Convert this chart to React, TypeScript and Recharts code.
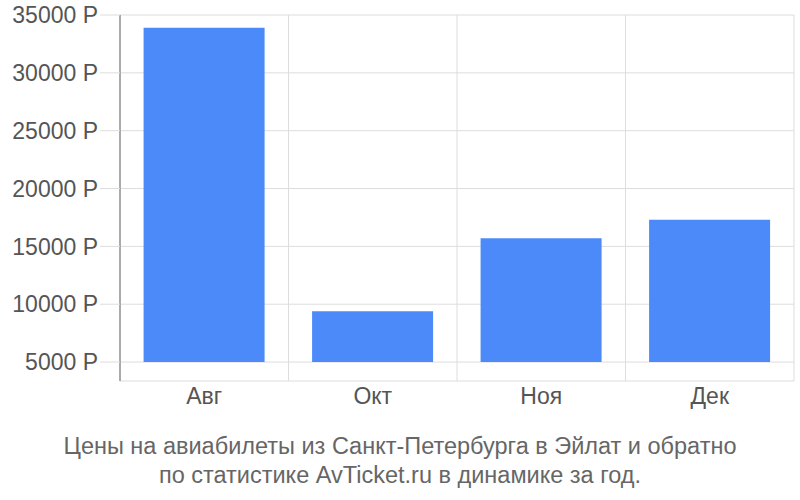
import { BarChart, Bar, XAxis, YAxis, CartesianGrid } from 'recharts'

const MONTHS = ['Авг', 'Окт', 'Ноя', 'Дек']
const PRICES = [33900, 9400, 15700, 17300]
const Y_TICKS = [5000, 10000, 15000, 20000, 25000, 30000, 35000]
const BASE_PRICE = 5000

const TITLE_LINES = [
  'Цены на авиабилеты из Санкт-Петербурга в Эйлат и обратно',
  'по статистике AvTicket.ru в динамике за год.',
]

const data = MONTHS.map((m, i) => ({ month: m, range: [BASE_PRICE, PRICES[i]] }))

const FONT = '"Liberation Sans", Arial, sans-serif'

export default function App() {
  return (
    <div style={{ position: 'absolute', left: 0, top: 0, width: 800, height: 500, background: '#fff', fontFamily: FONT }}>
      <BarChart
        width={800}
        height={500}
        data={data}
        margin={{ top: 15, right: 6, left: 0, bottom: 89 }}
        barCategoryGap="14%"
      >
        <CartesianGrid
          stroke="#dddddd"
          verticalCoordinatesGenerator={({ offset }: any) =>
            MONTHS.map((_m, i) => offset.left + ((i + 1) * offset.width) / MONTHS.length)
          }
        />
        <XAxis
          dataKey="month"
          height={30}
          axisLine={false}
          tickLine={false}
          tick={{ fill: '#555', fontSize: 23, fontFamily: FONT }}
          tickMargin={1}
        />
        <YAxis
          width={120}
          domain={[3362, 35000]}
          ticks={Y_TICKS}
          allowDataOverflow
          tickFormatter={(v: number) => `${v} Р`}
          axisLine={{ stroke: '#aaaaaa', strokeWidth: 2 }}
          tickLine={{ stroke: '#dddddd' }}
          tickSize={20}
          tickMargin={2}
          tick={{ fill: '#555', fontSize: 23, fontFamily: FONT }}
        />
        <Bar dataKey="range" fill="#4c8af9" isAnimationActive={false} />
      </BarChart>
      {TITLE_LINES.map((line, i) => (
        <div
          key={i}
          style={{
            position: 'absolute',
            left: 0,
            width: 800,
            top: 432 + i * 29,
            textAlign: 'center',
            fontSize: 23.5,
            color: '#666',
            lineHeight: '28px',
          }}
        >
          {line}
        </div>
      ))}
    </div>
  )
}
